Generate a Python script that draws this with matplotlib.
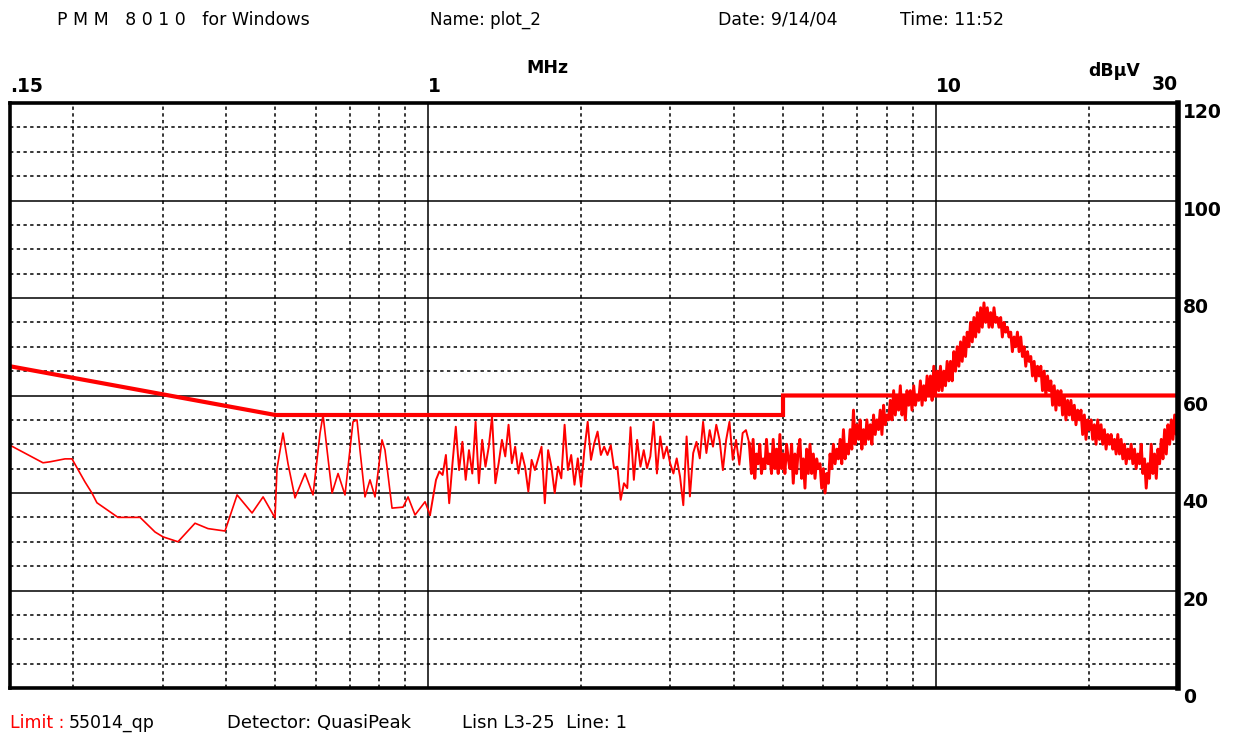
import numpy as np
import matplotlib.pyplot as plt
from matplotlib.ticker import MultipleLocator, LogLocator, NullFormatter

# Limit line (55014 quasi-peak)
LIMIT_MHZ = [0.15, 0.5, 5.0, 5.0, 30.0]
LIMIT_DB = [66, 56, 56, 60, 60]

# Measured sweep, low band (sparse points) 0.15 - 1 MHz
LOW_MHZ = [0.150, 0.1742, 0.1799, 0.1925, 0.1987, 0.2107, 0.2175, 0.2225, 0.2448,
           0.2706, 0.2896, 0.3003, 0.3214, 0.3472, 0.3682, 0.3978, 0.4202, 0.4497,
           0.4728, 0.4991, 0.5036, 0.5175, 0.5294, 0.5465, 0.5720, 0.5930, 0.6122,
           0.6206, 0.6320, 0.6465, 0.6643, 0.6856, 0.7109, 0.7239, 0.7338, 0.7507,
           0.7679, 0.7856, 0.8109, 0.8220, 0.8486, 0.8920, 0.9126, 0.9420, 0.9857,
           1.0083]
LOW_DB = [49.8, 46.2, 46.4, 47.0, 47.0, 42.3, 40.0, 38.0, 35.0,
          35.0, 32.0, 31.0, 30.0, 33.8, 32.7, 32.2, 39.6, 35.9,
          39.2, 34.9, 45.0, 52.3, 46.0, 39.0, 44.0, 39.6, 52.3,
          56.0, 48.8, 40.0, 44.0, 39.6, 54.6, 55.0, 48.8, 39.2,
          42.7, 39.2, 50.9, 48.8, 36.9, 37.1, 39.2, 35.5, 38.2,
          35.5]

# Measured sweep, mid band 1.04 - 4.29 MHz
MID_START, MID_STOP = 1.036, 4.29
MID_DB = [42.7, 44.4, 43.7, 47.8, 37.9, 46.1, 53.6, 44.7, 50.5, 42.7,
          48.8, 44.0, 54.6, 42.0, 50.9, 45.4, 49.5, 55.7, 42.0, 46.1,
          50.9, 47.5, 54.0, 46.1, 49.5, 44.0, 48.2, 45.4, 40.3, 46.8,
          44.7, 47.1, 49.5, 37.9, 48.8, 45.4, 40.0, 45.4, 43.0, 54.0,
          44.7, 47.8, 41.7, 47.1, 41.3, 48.8, 54.6, 46.8, 50.2, 52.6,
          47.8, 49.5, 47.8, 49.8, 45.1, 45.4, 38.6, 42.0, 41.0, 53.5,
          42.7, 50.9, 45.4, 48.8, 45.1, 47.5, 54.6, 44.0, 51.6, 47.1,
          49.5, 46.1, 44.0, 47.1, 43.4, 37.5, 51.6, 39.3, 48.2, 50.5,
          47.1, 54.6, 48.2, 52.9, 49.5, 54.0, 50.9, 44.7, 50.9, 54.6,
          46.8, 50.9, 45.8, 52.3, 52.9, 50.2]

# Measured sweep, high band (dense) 4.3 - 30 MHz
HIGH_START, HIGH_STOP = 4.30, 30.0
HIGH_DB = [49, 44, 51, 43, 48, 46, 50, 44, 47, 45, 51, 46,
           48, 44, 51, 45, 49, 44, 52, 45, 48, 44, 50, 47,
           45, 50, 42, 48, 44, 49, 51, 43, 47, 41, 49, 44,
           50, 44, 48, 43, 47, 45, 46, 41, 45, 40, 44, 42,
           48, 45, 50, 46, 49, 47, 51, 46, 53, 47, 50, 48,
           53, 49, 57, 50, 54, 51, 55, 49, 53, 50, 55, 51,
           54, 50, 56, 52, 55, 53, 57, 52, 58, 54, 56, 55,
           59, 55, 61, 56, 60, 57, 62, 56, 60, 55, 61, 58,
           61, 57, 62, 58, 60, 59, 63, 58, 62, 59, 64, 60,
           64, 59, 66, 60, 65, 61, 66, 61, 65, 62, 67, 63,
           67, 63, 69, 65, 70, 66, 71, 67, 72, 68, 73, 70,
           75, 71, 76, 72, 77, 73, 78, 74, 79, 75, 78, 74,
           77, 74, 78, 75, 76, 74, 76, 72, 75, 73, 74, 72,
           73, 69, 72, 70, 73, 69, 72, 68, 70, 66, 69, 67,
           68, 64, 67, 63, 66, 64, 66, 61, 65, 60, 64, 61,
           63, 58, 62, 57, 61, 58, 61, 56, 60, 55, 59, 56,
           59, 55, 58, 54, 57, 55, 57, 52, 56, 51, 55, 53,
           55, 51, 54, 50, 55, 51, 54, 50, 53, 49, 52, 50,
           52, 49, 51, 48, 52, 48, 51, 47, 50, 46, 49, 47,
           50, 46, 49, 45, 48, 46, 50, 44, 47, 41, 46, 43,
           50, 44, 48, 43, 49, 46, 51, 47, 53, 48, 54, 50,
           55, 51, 56, 52, 58]

# Axis labels
X_LABELS = [(0.15, ".15"), (1, "1"), (10, "10")]
Y_LABELS = [120, 100, 80, 60, 40, 20, 0]

RED = "#ff0000"

fig = plt.figure(figsize=(12.43, 7.40), dpi=100)
ax = fig.add_axes([10 / 1243, 1 - 688 / 740, 1168 / 1243, 585 / 740])

ax.set_xscale("log")
ax.set_xlim(0.15, 30)
ax.set_ylim(0, 120)

# grid: solid every 20 dB / decade, dashed in between
ax.yaxis.set_major_locator(MultipleLocator(20))
ax.yaxis.set_minor_locator(MultipleLocator(5))
ax.xaxis.set_major_locator(LogLocator(base=10, subs=[1.0]))
ax.xaxis.set_minor_locator(LogLocator(base=10, subs=[2, 3, 4, 5, 6, 7, 8, 9]))
ax.xaxis.set_minor_formatter(NullFormatter())
ax.grid(which="major", color="black", linewidth=1.1, linestyle="-")
ax.grid(which="minor", color="black", linewidth=1.1, linestyle=(0, (2.2, 2.2)))
ax.set_axisbelow(True)
ax.tick_params(which="both", length=0, labelleft=False, labelbottom=False)

for side in ["left", "top", "bottom"]:
    ax.spines[side].set_linewidth(2.6)
ax.spines["right"].set_linewidth(4)

# measured data
ax.plot(LOW_MHZ, LOW_DB, color=RED, linewidth=1.2)
mid_f = np.geomspace(MID_START, MID_STOP, len(MID_DB))
ax.plot(np.r_[LOW_MHZ[-1], mid_f], np.r_[LOW_DB[-1], MID_DB], color=RED, linewidth=1.4)
high_f = np.geomspace(HIGH_START, HIGH_STOP, len(HIGH_DB))
ax.plot(np.r_[mid_f[-1], high_f], np.r_[MID_DB[-1], HIGH_DB], color=RED, linewidth=2.1)

# limit line
ax.plot(LIMIT_MHZ, LIMIT_DB, color=RED, linewidth=3.0, solid_joinstyle="miter")

# x labels above the frame
xt = ax.get_xaxis_transform()
for f, lab in X_LABELS:
    ax.text(f, 1.012, lab, transform=xt, ha="left", va="bottom",
            fontsize=13.5, fontweight="bold")
ax.text(30, 1.016, "30", transform=xt, ha="right", va="bottom",
        fontsize=13.5, fontweight="bold")
ax.text(1.72, 1.045, "MHz", transform=xt, ha="center", va="bottom",
        fontsize=12.5, fontweight="bold")
ax.text(22.5, 1.04, "dBµV", transform=xt, ha="center", va="bottom",
        fontsize=12.5, fontweight="bold")

# y labels on the right
yt = ax.get_yaxis_transform()
for v in Y_LABELS:
    ax.text(1.004, v, str(v), transform=yt, ha="left", va="top",
            fontsize=13.5, fontweight="bold")

# header
hdr_y = 1 - 20 / 740
fig.text(57 / 1243, hdr_y, "P M M   8 0 1 0   for Windows", fontsize=12.5, va="center")
fig.text(430 / 1243, hdr_y, "Name: plot_2", fontsize=12, va="center")
fig.text(718 / 1243, hdr_y, "Date: 9/14/04", fontsize=12.5, va="center")
fig.text(900 / 1243, hdr_y, "Time: 11:52", fontsize=12.5, va="center")

# footer
ftr_y = 1 - 723 / 740
fig.text(10 / 1243, ftr_y, "Limit :", fontsize=12.5, va="center", color=RED)
fig.text(69 / 1243, ftr_y, "55014_qp", fontsize=12.5, va="center")
fig.text(227 / 1243, ftr_y, "Detector: QuasiPeak", fontsize=13, va="center")
fig.text(462 / 1243, ftr_y, "Lisn L3-25  Line: 1", fontsize=13, va="center")

fig.savefig("out.png", dpi=100)
